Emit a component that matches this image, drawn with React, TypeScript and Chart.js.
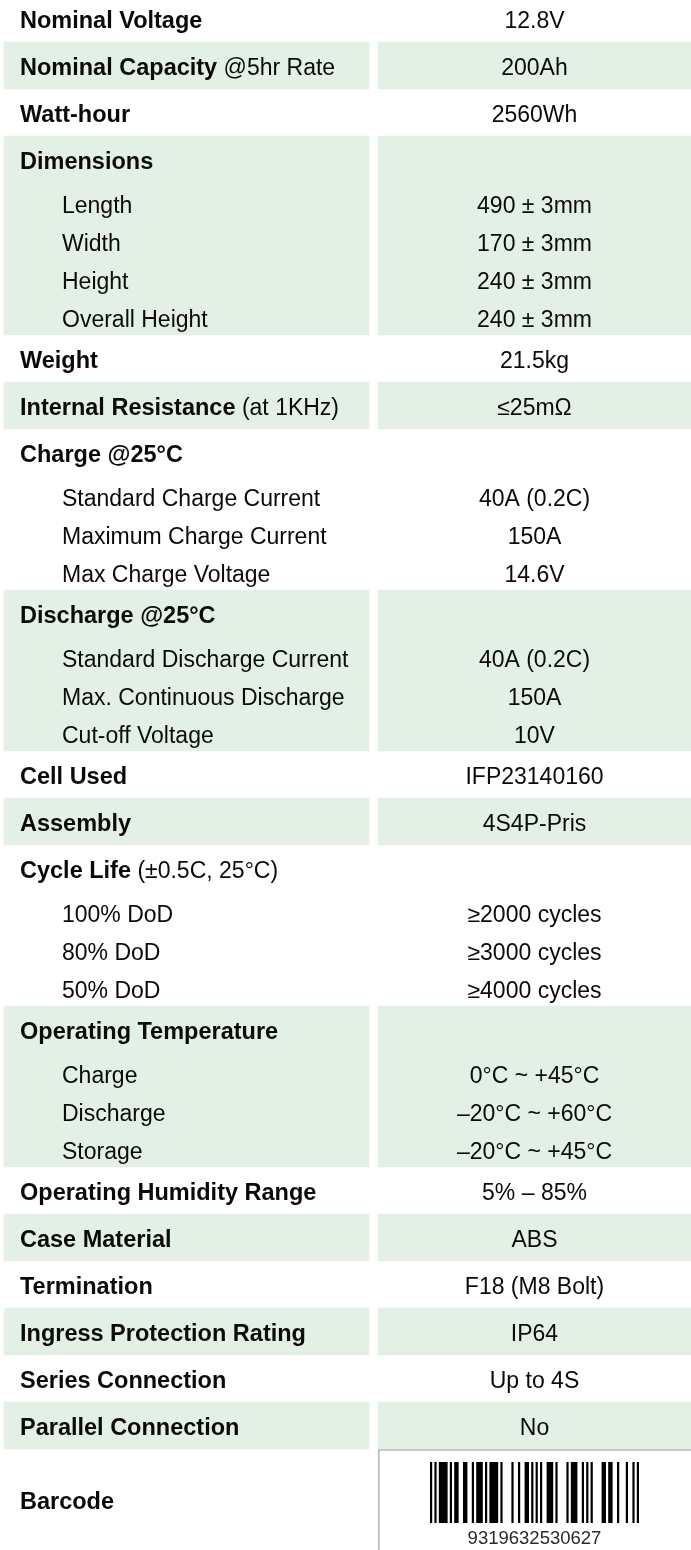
import React, { useEffect, useRef } from "react";
import { Chart, registerables } from "chart.js";

Chart.register(...registerables);

// ---------- data ----------
const ROW_LABELS = [
  "Nominal Voltage", "Nominal Capacity", "Watt-hour", "Dimensions", "Length", "Width", "Height",
  "Overall Height", "Weight", "Internal Resistance", "Charge @25°C", "Standard Charge Current",
  "Maximum Charge Current", "Max Charge Voltage", "Discharge @25°C", "Standard Discharge Current",
  "Max. Continuous Discharge", "Cut-off Voltage", "Cell Used", "Assembly", "Cycle Life", "100% DoD",
  "80% DoD", "50% DoD", "Operating Temperature", "Charge", "Discharge", "Storage",
  "Operating Humidity Range", "Case Material", "Termination", "Ingress Protection Rating",
  "Series Connection", "Parallel Connection", "Barcode",
];
const ROW_NOTES = [
  "", " @5hr Rate", "", "", "", "", "", "", "", " (at 1KHz)", "", "", "", "", "", "", "", "", "", "",
  " (±0.5C, 25°C)", "", "", "", "", "", "", "", "", "", "", "", "", "", "",
];
const ROW_VALUES = [
  "12.8V", "200Ah", "2560Wh", "", "490 ± 3mm", "170 ± 3mm", "240 ± 3mm", "240 ± 3mm", "21.5kg",
  "≤25mΩ", "", "40A (0.2C)", "150A", "14.6V", "", "40A (0.2C)", "150A", "10V", "IFP23140160",
  "4S4P-Pris", "", "≥2000 cycles", "≥3000 cycles", "≥4000 cycles", "", "0°C ~ +45°C",
  "–20°C ~ +60°C", "–20°C ~ +45°C", "5% – 85%", "ABS", "F18 (M8 Bolt)", "IP64", "Up to 4S", "No", "",
];
const ROW_KINDS = [
  "item", "item", "item", "head", "sub", "sub", "sub", "sub", "item", "item", "head", "sub", "sub",
  "sub", "head", "sub", "sub", "sub", "item", "item", "head", "sub", "sub", "sub", "head", "sub",
  "sub", "sub", "item", "item", "item", "item", "item", "item", "code",
];
const BARCODE_DIGITS = "9319632530627";

// ---------- layout / style ----------
const W = 691;
const H = 1550;
const TOP = -5;
const ROW_H: Record<string, number> = { item: 47, head: 47, sub: 38, code: 101 };
const LEFT_COL = [4, 369];
const RIGHT_COL = [378, 692];
const LABEL_X = 20;
const SUB_X = 62;
const GREEN = "#e3f0e6";
const TEXT = "#0a0a0a";
const FONT_FAMILY = '"Liberation Sans", Arial, Helvetica, sans-serif';
const FONT_SIZE = 23;
const BOLD_SIZE = 23.5;
const MODULE = 2.2;
const BAR_TOP_OFF = 13;
const BAR_BOTTOM_OFF = 74;

// EAN-13 encoding tables
const L_CODES = ["0001101", "0011001", "0010011", "0111101", "0100011", "0110001", "0101111", "0111011", "0110111", "0001011"];
const G_CODES = ["0100111", "0110011", "0011011", "0100001", "0011101", "0111001", "0000101", "0010001", "0001001", "0010111"];
const R_CODES = ["1110010", "1100110", "1101100", "1000010", "1011100", "1001110", "1010000", "1000100", "1001000", "1110100"];
const PARITY = ["LLLLLL", "LLGLGG", "LLGGLG", "LLGGGL", "LGLLGG", "LGGLLG", "LGGGLL", "LGLGLG", "LGLGGL", "LGGLGL"];

function ean13(code: string): string {
  const d = code.split("").map(Number);
  const par = PARITY[d[0]];
  let s = "101";
  for (let i = 1; i <= 6; i++) s += par[i - 1] === "L" ? L_CODES[d[i]] : G_CODES[d[i]];
  s += "01010";
  for (let i = 7; i <= 12; i++) s += R_CODES[d[i]];
  s += "101";
  return s;
}

type Row = { top: number; bottom: number; kind: string; group: number };

function layoutRows(): Row[] {
  const rows: Row[] = [];
  let y = TOP;
  let g = -1;
  ROW_KINDS.forEach((k) => {
    if (k !== "sub") g++;
    rows.push({ top: y, bottom: y + ROW_H[k], kind: k, group: g });
    y += ROW_H[k];
  });
  return rows;
}

export default function App() {
  const ref = useRef<HTMLCanvasElement | null>(null);

  useEffect(() => {
    if (!ref.current) return;
    const rows = layoutRows();
    const groups: { top: number; bottom: number; kind: string; idx: number }[] = [];
    rows.forEach((r) => {
      const gr = groups[r.group];
      if (!gr) groups[r.group] = { top: r.top, bottom: r.bottom, kind: r.kind, idx: r.group };
      else gr.bottom = r.bottom;
    });
    const shaded = groups.filter((g) => g.idx % 2 === 1 && g.kind !== "code");
    const codeGroup = groups.find((g) => g.kind === "code")!;
    const leftC = (LEFT_COL[0] + LEFT_COL[1]) / 2;
    const rightC = (RIGHT_COL[0] + RIGHT_COL[1]) / 2;
    const valueC = (RIGHT_COL[0] + W) / 2;

    const textPlugin = {
      id: "tableText",
      afterDatasetsDraw(chart: any) {
        const ctx = chart.ctx as CanvasRenderingContext2D;
        const xs = chart.scales.x;
        const ys = chart.scales.y;
        ctx.save();
        ctx.fillStyle = TEXT;
        ctx.textBaseline = "alphabetic";
        const capHalf = (FONT_SIZE * 0.716) / 2;
        rows.forEach((r, i) => {
          const mid = ys.getPixelForValue((r.top + r.bottom) / 2);
          const base = mid + capHalf + (r.kind === "sub" ? 2.5 : 0.8);
          const bold = `bold ${BOLD_SIZE}px ${FONT_FAMILY}`;
          const reg = `${FONT_SIZE}px ${FONT_FAMILY}`;
          ctx.textAlign = "left";
          if (r.kind === "sub") {
            ctx.font = reg;
            ctx.fillText(ROW_LABELS[i], xs.getPixelForValue(SUB_X), base);
          } else {
            ctx.font = bold;
            const x0 = xs.getPixelForValue(LABEL_X);
            ctx.fillText(ROW_LABELS[i], x0, base);
            if (ROW_NOTES[i]) {
              const w = ctx.measureText(ROW_LABELS[i]).width;
              ctx.font = reg;
              ctx.fillText(ROW_NOTES[i], x0 + w, base);
            }
          }
          if (ROW_VALUES[i]) {
            ctx.font = reg;
            ctx.textAlign = "center";
            ctx.fillText(ROW_VALUES[i], xs.getPixelForValue(valueC), base);
          }
        });
        // barcode
        const bits = ean13(BARCODE_DIGITS);
        const startX = valueC - (bits.length * MODULE) / 2;
        const yTop = ys.getPixelForValue(codeGroup.top + BAR_TOP_OFF);
        const yBot = ys.getPixelForValue(codeGroup.top + BAR_BOTTOM_OFF);
        ctx.fillStyle = "#000";
        let i = 0;
        while (i < bits.length) {
          if (bits[i] === "1") {
            let j = i;
            while (j < bits.length && bits[j] === "1") j++;
            const xa = xs.getPixelForValue(startX + i * MODULE);
            const xb = xs.getPixelForValue(startX + j * MODULE);
            ctx.fillRect(xa, yTop, xb - xa, yBot - yTop);
            i = j;
          } else i++;
        }
        ctx.fillStyle = "#2a2a2a";
        ctx.font = `18.5px ${FONT_FAMILY}`;
        ctx.textAlign = "center";
        ctx.textBaseline = "middle";
        ctx.fillText(BARCODE_DIGITS, xs.getPixelForValue(valueC), ys.getPixelForValue(codeGroup.top + 90));
        ctx.restore();
      },
    };

    const chart = new Chart(ref.current, {
      type: "bar",
      data: {
        datasets: [
          {
            label: "left",
            data: shaded.map((g) => ({ x: leftC, y: [g.top, g.bottom] })) as any,
            backgroundColor: GREEN,
            barThickness: LEFT_COL[1] - LEFT_COL[0],
            grouped: false,
            borderWidth: 0,
          },
          {
            label: "right",
            data: shaded.map((g) => ({ x: rightC, y: [g.top, g.bottom] })) as any,
            backgroundColor: GREEN,
            barThickness: RIGHT_COL[1] - RIGHT_COL[0],
            grouped: false,
            borderWidth: 0,
          },
          {
            label: "barcode",
            data: [{ x: rightC, y: [codeGroup.top, codeGroup.bottom + 10] }] as any,
            backgroundColor: "#ffffff",
            borderColor: "#bdbdbd",
            borderWidth: { top: 2, left: 2, right: 0, bottom: 0 } as any,
            borderSkipped: false,
            barThickness: RIGHT_COL[1] - RIGHT_COL[0],
            grouped: false,
          },
        ],
      },
      options: {
        animation: false,
        responsive: false,
        devicePixelRatio: 1,
        layout: { padding: 0 },
        plugins: { legend: { display: false }, tooltip: { enabled: false } },
        scales: {
          x: { type: "linear", min: 0, max: W, offset: false, display: false },
          y: { type: "linear", min: 0, max: H, offset: false, reverse: true, display: false },
        },
      },
      plugins: [textPlugin],
    });
    return () => chart.destroy();
  }, []);

  return (
    <div style={{ position: "absolute", left: 0, top: 0, width: W, height: H, background: "#fff" }}>
      <canvas ref={ref} width={W} height={H} style={{ display: "block" }} />
    </div>
  );
}
